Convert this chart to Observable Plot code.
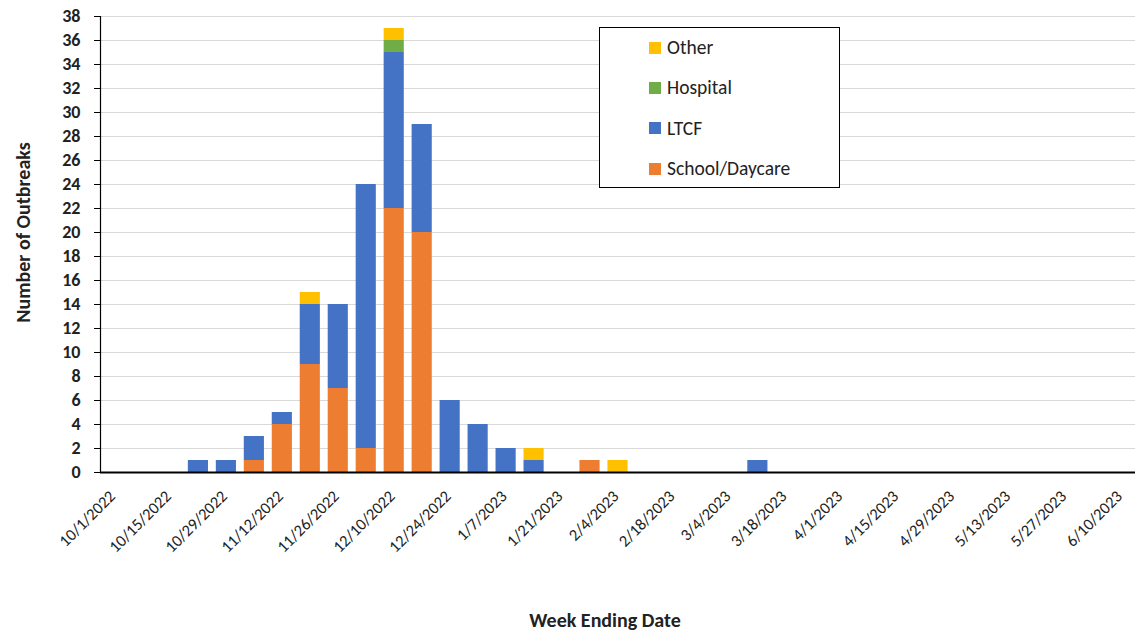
<!DOCTYPE html>
<html>
<head>
<meta charset="utf-8">
<script src="https://cdn.jsdelivr.net/npm/d3@7"></script>
<script src="https://cdn.jsdelivr.net/npm/@observablehq/plot@0.6"></script>
<style>
  html, body { margin: 0; padding: 0; background: #fff; }
  #wrap { position: relative; width: 1135px; height: 633px; font-family: Carlito, Lato, "Open Sans", sans-serif; }
  #legend { position: absolute; left: 599px; top: 27px; width: 239px; height: 159px; border: 1.5px solid #000; background: #fff; }
  .item { position: absolute; left: 49px; display: flex; align-items: center; font-size: 19.5px; color: #222; line-height: 1; }
  .sw { width: 12px; height: 12px; margin-right: 6px; }
</style>
</head>
<body>
<div id="wrap"></div>
<script>
const weeks = ["10/1/2022","10/8/2022","10/15/2022","10/22/2022","10/29/2022","11/5/2022","11/12/2022","11/19/2022","11/26/2022","12/3/2022","12/10/2022","12/17/2022","12/24/2022","12/31/2022","1/7/2023","1/14/2023","1/21/2023","1/28/2023","2/4/2023","2/11/2023","2/18/2023","2/25/2023","3/4/2023","3/11/2023","3/18/2023","3/25/2023","4/1/2023","4/8/2023","4/15/2023","4/22/2023","4/29/2023","5/6/2023","5/13/2023","5/20/2023","5/27/2023","6/3/2023","6/10/2023"];
const school   = [0,0,0,0,0,1,4,9,7,2,22,20,0,0,0,0,0,1,0,0,0,0,0,0,0,0,0,0,0,0,0,0,0,0,0,0,0];
const ltcf     = [0,0,0,1,1,2,1,5,7,22,13,9,6,4,2,1,0,0,0,0,0,0,0,1,0,0,0,0,0,0,0,0,0,0,0,0,0];
const hospital = [0,0,0,0,0,0,0,0,0,0,1,0,0,0,0,0,0,0,0,0,0,0,0,0,0,0,0,0,0,0,0,0,0,0,0,0,0];
const other    = [0,0,0,0,0,0,0,1,0,0,1,0,0,0,0,1,0,0,1,0,0,0,0,0,0,0,0,0,0,0,0,0,0,0,0,0,0];
const seriesNames = ["School/Daycare","LTCF","Hospital","Other"];
const seriesColors = ["#ED7D31","#4472C4","#70AD47","#FFC000"];
const yTicks = d3.range(0, 39, 2);
const xTicks = weeks.filter((d, i) => i % 2 === 0);

const seriesValues = [school, ltcf, hospital, other];
const rows = [];
seriesNames.forEach((name, s) => {
  weeks.forEach((w, i) => {
    if (seriesValues[s][i] > 0) rows.push({week: w, type: name, value: seriesValues[s][i]});
  });
});

const chart = Plot.plot({
  width: 1135,
  height: 633,
  marginLeft: 100,
  marginRight: 0,
  marginTop: 16,
  marginBottom: 161,
  style: {fontFamily: "Carlito, Lato, 'Open Sans', sans-serif", background: "#fff"},
  x: {domain: weeks, paddingInner: 0.28, paddingOuter: 0.14, align: 0.5, label: null},
  y: {domain: [0, 38], label: null},
  color: {domain: seriesNames, range: seriesColors},
  marks: [
    Plot.gridY(yTicks, {stroke: "#d9d9d9", strokeOpacity: 1, strokeWidth: 1}),
    Plot.barY(rows, {x: "week", y: "value", fill: "type", order: seriesNames}),
    Plot.axisY({ticks: yTicks, tickSize: 6, tickPadding: 14, fontSize: 18, fontWeight: "bold", fill: "#222", label: null}),
    Plot.axisX({ticks: xTicks, tickSize: 0, tickPadding: 12, tickRotate: -45, fontSize: 16.5, fill: "#222", dx: -2, dy: 9, label: null}),
    Plot.frame({anchor: "left", stroke: "#000", strokeWidth: 1.2}),
    Plot.ruleY([0], {stroke: "#000", strokeWidth: 1.8}),
    Plot.text(["Week Ending Date"], {frameAnchor: "bottom", textAnchor: "middle", dx: -13, dy: 154, fontSize: 20, fontWeight: "bold", fill: "#222"}),
    Plot.text(["Number of Outbreaks"], {frameAnchor: "left", textAnchor: "middle", dx: -77, dy: -12, rotate: -90, fontSize: 20, fontWeight: "bold", fill: "#222"})
  ]
});

const wrap = document.getElementById("wrap");
wrap.appendChild(chart);

const legend = document.createElement("div");
legend.id = "legend";
const legendOrder = [3, 2, 1, 0];
legendOrder.forEach((s, k) => {
  const it = document.createElement("div");
  it.className = "item";
  it.style.top = (10 + k * 40.3) + "px";
  it.innerHTML = `<span class="sw" style="background:${seriesColors[s]}"></span><span>${seriesNames[s]}</span>`;
  legend.appendChild(it);
});
wrap.appendChild(legend);
</script>
</body>
</html>
